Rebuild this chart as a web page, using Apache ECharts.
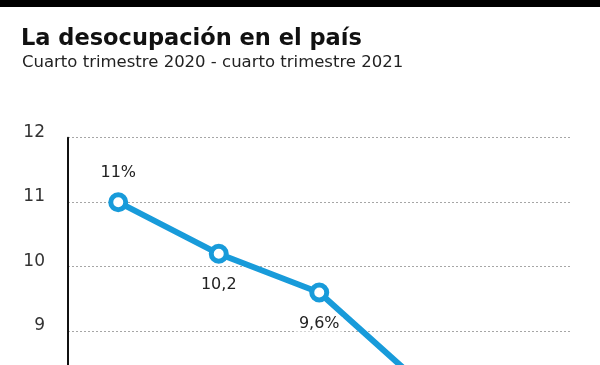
<!DOCTYPE html>
<html>
<head>
<meta charset="utf-8">
<script src="https://cdn.jsdelivr.net/npm/echarts@6/dist/echarts.min.js"></script>
<style>html,body{margin:0;padding:0;background:#fff;overflow:hidden}#c{width:600px;height:560px}</style>
</head>
<body>
<div id="c"></div>
<script>
const titleText = 'La desocupación en el país';
const subtitleText = 'Cuarto trimestre 2020 - cuarto trimestre 2021';
const categories = ['IV-2020', 'I-2021', 'II-2021', 'III-2021', 'IV-2021'];
const desocupacion = [11.0, 10.2, 9.6, 8.2, 7.0];
const pointLabels = ['11%', '10,2', '9,6%', '8,2%', '7%'];
const yMin = 6, yMax = 12, yStep = 1;

const labelPos = ['top', 'bottom', 'bottom', 'bottom', 'bottom'];
const BLUE = '#189bda';
const unit = 64.5;

const chart = echarts.init(document.getElementById('c'), null, {renderer: 'canvas'});
chart.setOption({
  animation: false,
  backgroundColor: '#fff',
  graphic: [{type: 'rect', shape: {x: 0, y: 0, width: 600, height: 7}, style: {fill: '#000'}}],
  title: [
    {text: titleText, left: 21, top: 28, padding: 0,
     textStyle: {fontFamily: 'DejaVu Sans', fontWeight: 'bold', fontSize: 22.5, color: '#111'}},
    {text: subtitleText, left: 22, top: 54, padding: 0,
     textStyle: {fontFamily: 'DejaVu Sans', fontWeight: 'normal', fontSize: 16.5, color: '#222'}}
  ],
  grid: {left: 68, top: 137.7, width: 502.5, height: unit * (yMax - yMin)},
  xAxis: {
    type: 'category', data: categories, boundaryGap: true,
    axisLine: {show: false}, axisTick: {show: false}, axisLabel: {show: false}
  },
  yAxis: {
    type: 'value', min: yMin, max: yMax, interval: yStep,
    axisLine: {show: true, lineStyle: {color: '#111', width: 2}},
    axisTick: {show: false},
    axisLabel: {margin: 23, fontFamily: 'DejaVu Sans', fontSize: 17, color: '#333',
                verticalAlign: 'bottom', lineHeight: 17, padding: [0, 0, -3, 0]},
    splitLine: {show: true, lineStyle: {color: '#a6a6a6', type: [2, 2], width: 1}}
  },
  series: [{
    type: 'line',
    data: desocupacion.map((v, i) => ({
      value: v,
      label: {
        show: true, position: labelPos[i], formatter: pointLabels[i],
        distance: labelPos[i] === 'top' ? 12 : 15
      }
    })),
    symbol: 'circle', symbolSize: 15,
    itemStyle: {color: '#fff', borderColor: BLUE, borderWidth: 5},
    lineStyle: {color: BLUE, width: 6},
    label: {fontFamily: 'DejaVu Sans', fontSize: 16, color: '#222', lineHeight: 13,
            backgroundColor: '#fff', padding: [0, 3, 1, 3]},
    z: 5
  }]
});
</script>
</body>
</html>
